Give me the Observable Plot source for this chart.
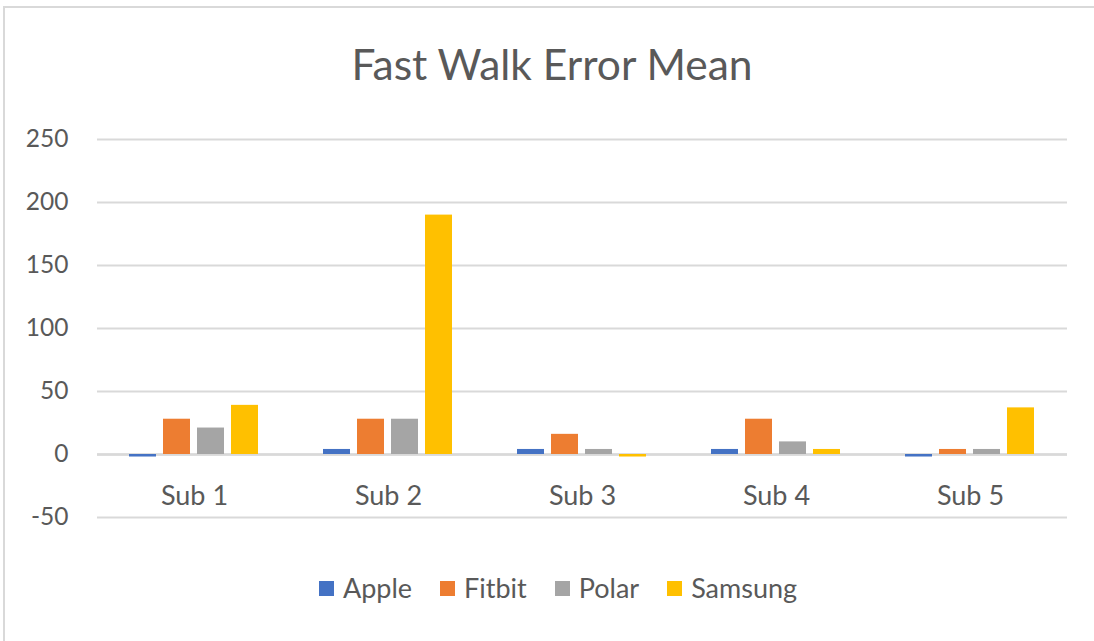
<!DOCTYPE html>
<html>
<head>
<meta charset="utf-8">
<script src="https://cdn.jsdelivr.net/npm/d3@7"></script>
<script src="https://cdn.jsdelivr.net/npm/@observablehq/plot@0.6"></script>
<style>
  html, body { margin: 0; padding: 0; background: #fff; }
  #wrap { position: relative; width: 1094px; height: 641px; overflow: hidden; font-family: Lato, "Open Sans", sans-serif; color: #595959; }
  #border { position: absolute; left: 3px; top: 6px; width: 1200px; height: 700px; border-left: 2px solid #d9d9d9; border-top: 2px solid #d9d9d9; }
  #title { position: absolute; top: 37px; left: 0; width: 1104px; text-align: center; font-size: 42.5px; line-height: 54px; }
  #chart { position: absolute; left: 0; top: 0; }
  #legend { position: absolute; top: 569px; left: 0; width: 1116px; display: flex; justify-content: center; font-size: 27px; line-height: 38px; }
  .item { display: flex; align-items: center; margin: 0 14px; }
  .sw { width: 15px; height: 15px; margin-right: 9px; }
</style>
</head>
<body>
<div id="wrap">
  <div id="border"></div>
  <div id="title">Fast Walk Error Mean</div>
  <div id="chart"></div>
  <div id="legend"></div>
</div>
<script>
const subjects = ["Sub 1", "Sub 2", "Sub 3", "Sub 4", "Sub 5"];
const brands = ["Apple", "Fitbit", "Polar", "Samsung"];
const colors = ["#4472C4", "#ED7D31", "#A5A5A5", "#FFC000"];
const apple = [-2, 4, 4, 4, -2];
const fitbit = [28, 28, 16, 28, 4];
const polar = [21, 28, 4, 10, 4];
const samsung = [39, 190, -2, 4, 37];
const yTicks = [-50, 0, 50, 100, 150, 200, 250];

const series = [apple, fitbit, polar, samsung];
const data = [];
subjects.forEach((s, i) => {
  brands.forEach((b, j) => data.push({ sub: s, brand: b, value: series[j][i] }));
});

const plot = Plot.plot({
  width: 1094,
  height: 560,
  marginTop: 139,
  marginBottom: 43,
  marginLeft: 97,
  marginRight: 27,
  style: { fontFamily: "Lato, 'Open Sans', sans-serif", fontSize: "24px", color: "#595959", background: "transparent" },
  fx: { domain: subjects, padding: 0, axis: null },
  x: { domain: brands, paddingInner: 0.2, paddingOuter: 0.9, axis: null },
  y: { domain: [-50, 250], ticks: yTicks, label: null },
  color: { domain: brands, range: colors },
  marks: [
    Plot.ruleY(yTicks, { stroke: "#d9d9d9", strokeWidth: 2 }),
    Plot.ruleY([0], { stroke: "#d9d9d9", strokeWidth: 2.5 }),
    Plot.barY(data, { fx: "sub", x: "brand", y: "value", fill: "brand" }),
    Plot.axisY(yTicks, { tickSize: 0, tickPadding: 29, fontSize: 24.5, fill: "#595959", label: null, tickFormat: d => String(d) }),
    Plot.text(subjects, { fx: d => d, text: d => d, frameAnchor: "bottom", lineAnchor: "middle", dy: -21, fontSize: 27, fill: "#595959" })
  ]
});
document.getElementById("chart").appendChild(plot);

const legend = document.getElementById("legend");
brands.forEach((b, i) => {
  const item = document.createElement("div");
  item.className = "item";
  const sw = document.createElement("span");
  sw.className = "sw";
  sw.style.background = colors[i];
  const t = document.createElement("span");
  t.textContent = b;
  item.appendChild(sw);
  item.appendChild(t);
  legend.appendChild(item);
});
</script>
</body>
</html>
